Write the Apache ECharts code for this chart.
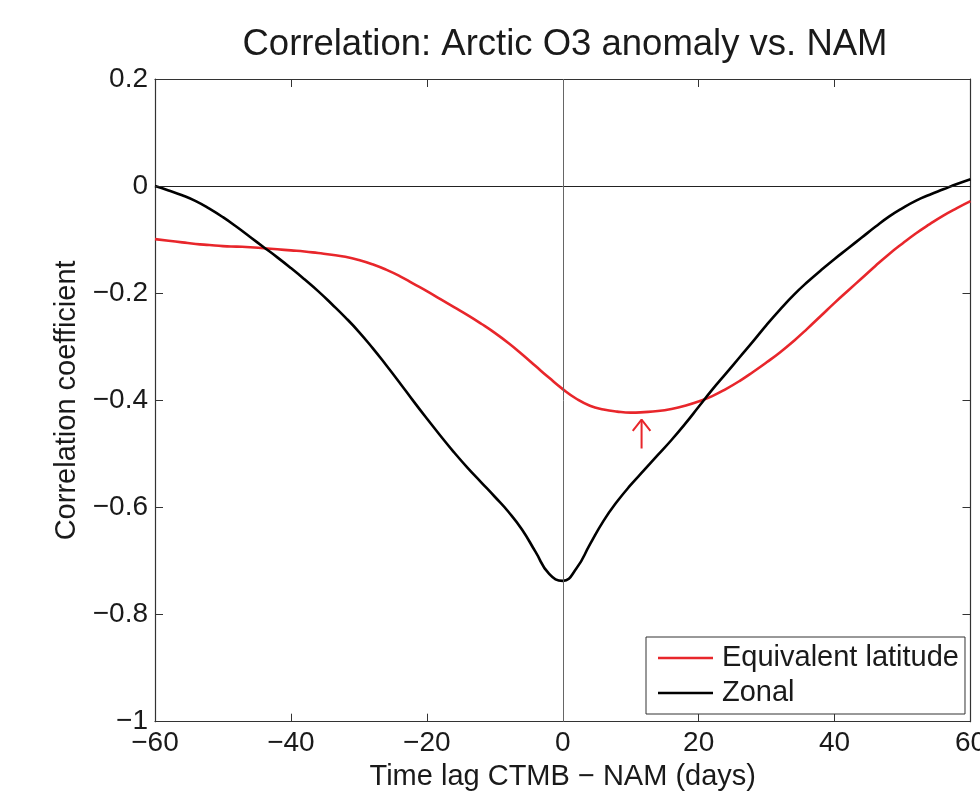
<!DOCTYPE html>
<html>
<head>
<meta charset="utf-8">
<script src="https://cdn.jsdelivr.net/npm/echarts@6/dist/echarts.min.js"></script>
<style>html,body{margin:0;padding:0;background:#fff;}#chart{width:980px;height:794px;}</style>
</head>
<body>
<div id="chart"></div>
<script>
const days = [-60,-58,-56,-54,-52,-50,-48,-46,-44,-42,-40,-38,-36,-34,-32,-30,-28,-26,-24,-22,-20,-18,-16,-14,-12,-10,-8,-6,-4,-2,0,2,4,6,8,10,12,14,16,18,20,22,24,26,28,30,32,34,36,38,40,42,44,46,48,50,52,54,56,58,60];
const equivalentLatitude = [-0.099,-0.102,-0.105,-0.108,-0.110,-0.112,-0.113,-0.114,-0.116,-0.118,-0.120,-0.122,-0.125,-0.128,-0.132,-0.138,-0.146,-0.156,-0.168,-0.182,-0.196,-0.211,-0.226,-0.241,-0.257,-0.274,-0.293,-0.314,-0.336,-0.358,-0.379,-0.397,-0.410,-0.417,-0.421,-0.423,-0.422,-0.420,-0.416,-0.410,-0.402,-0.392,-0.379,-0.364,-0.347,-0.329,-0.310,-0.289,-0.266,-0.242,-0.218,-0.195,-0.172,-0.149,-0.127,-0.107,-0.088,-0.071,-0.055,-0.041,-0.028];
const zonal = [0.000,-0.008,-0.017,-0.028,-0.042,-0.058,-0.076,-0.095,-0.114,-0.133,-0.153,-0.174,-0.196,-0.220,-0.245,-0.272,-0.302,-0.334,-0.367,-0.401,-0.434,-0.466,-0.497,-0.526,-0.553,-0.580,-0.608,-0.641,-0.683,-0.724,-0.737,-0.714,-0.669,-0.625,-0.589,-0.558,-0.530,-0.502,-0.474,-0.444,-0.412,-0.380,-0.350,-0.320,-0.290,-0.259,-0.230,-0.203,-0.179,-0.157,-0.136,-0.116,-0.096,-0.076,-0.057,-0.041,-0.027,-0.016,-0.006,0.004,0.013];
const seriesNames = ['Equivalent latitude', 'Zonal'];
const xTicks = [-60,-40,-20,0,20,40,60];
const yTicks = [-1,-0.8,-0.6,-0.4,-0.2,0,0.2];
// arrow marking the minimum of the equivalent-latitude curve
const arrowX = 11.6, arrowFrom = -0.49, arrowTo = -0.436, arrowHalfW = 1.3, arrowHeadH = 0.021;

const FONT = "'Liberation Sans', Arial, Helvetica, sans-serif";
const fmt = v => { const r = Math.round(v * 10) / 10; if (r === 0) return '0'; return (r < 0 ? '\u2212' : '') + String(Math.abs(r)); };

const chart = echarts.init(document.getElementById('chart'), null, {renderer: 'canvas'});
const baseX = {type: 'value', min: xTicks[0], max: xTicks[xTicks.length-1], interval: 20, splitLine: {show: false}};
const baseY = {type: 'value', min: yTicks[0], max: yTicks[yTicks.length-1], interval: 0.2, splitLine: {show: false}};
const tick = {show: true, inside: true, length: 8, lineStyle: {color: '#333', width: 1}};
const axLine = {show: true, onZero: false, lineStyle: {color: '#333', width: 1.2}};

chart.setOption({
  backgroundColor: '#fff',
  animation: false,
  title: {
    text: 'Correlation: Arctic O3 anomaly vs. NAM',
    left: 560, textAlign: 'center', top: 21,
    textStyle: {fontFamily: FONT, fontSize: 36.5, fontWeight: 'normal', color: '#1a1a1a'}
  },
  grid: {left: 155, right: 9.5, top: 79, bottom: 72.3, show: false, containLabel: false, outerBoundsMode: 'none'},
  legend: {
    orient: 'vertical', left: 646, top: 637, width: 317,
    padding: [6, 6, 6, 12], itemGap: 5, itemWidth: 55, itemHeight: 14,
    backgroundColor: '#fff', borderColor: '#333', borderWidth: 1,
    textStyle: {fontFamily: FONT, fontSize: 29, color: '#1a1a1a', lineHeight: 30, padding: [0,0,0,4]},
    data: seriesNames.map(n => ({name: n, icon: 'path://M0,0 L55,0 L55,2.6 L0,2.6 Z'}))
  },
  xAxis: [
    Object.assign({}, baseX, {
      position: 'bottom', axisLine: axLine, axisTick: tick,
      axisLabel: {formatter: fmt, fontFamily: FONT, fontSize: 28, color: '#1a1a1a', margin: 8},
      name: 'Time lag CTMB \u2212 NAM (days)', nameLocation: 'middle', nameGap: 36,
      nameTextStyle: {fontFamily: FONT, fontSize: 29, color: '#1a1a1a'}
    }),
    Object.assign({}, baseX, {position: 'top', axisLine: axLine, axisTick: tick, axisLabel: {show: false}})
  ],
  yAxis: [
    Object.assign({}, baseY, {
      position: 'left', axisLine: axLine, axisTick: tick,
      axisLabel: {formatter: fmt, fontFamily: FONT, fontSize: 28, color: '#1a1a1a', margin: 7},
      name: 'Correlation coefficient', nameLocation: 'middle', nameGap: 71,
      nameTextStyle: {fontFamily: FONT, fontSize: 29, color: '#1a1a1a'}
    }),
    Object.assign({}, baseY, {position: 'right', axisLine: axLine, axisTick: tick, axisLabel: {show: false}})
  ],
  series: [
    {
      name: seriesNames[0], type: 'line', smooth: 0.5, symbol: 'none', z: 3,
      lineStyle: {color: '#e8262b', width: 2.6}, itemStyle: {color: '#e8262b'},
      data: days.map((d, i) => [d, equivalentLatitude[i]])
    },
    {
      name: seriesNames[1], type: 'line', smooth: 0.5, symbol: 'none', z: 4,
      lineStyle: {color: '#000', width: 2.6}, itemStyle: {color: '#000'},
      data: days.map((d, i) => [d, zonal[i]]),
      markLine: {
        silent: true, symbol: 'none', label: {show: false}, animation: false,
        data: [
          {yAxis: 0, lineStyle: {color: '#222', width: 1, type: 'solid'}},
          {xAxis: 0, lineStyle: {color: '#666', width: 1, type: 'solid'}}
        ]
      }
    },
    {
      name: 'arrow-shaft', type: 'line', symbol: 'none', silent: true, z: 5,
      lineStyle: {color: '#e8262b', width: 2}, legendHoverLink: false,
      data: [[arrowX, arrowFrom], [arrowX, arrowTo]]
    },
    {
      name: 'arrow-head', type: 'line', symbol: 'none', silent: true, z: 5,
      lineStyle: {color: '#e8262b', width: 2}, legendHoverLink: false,
      data: [[arrowX - arrowHalfW, arrowTo - arrowHeadH], [arrowX, arrowTo], [arrowX + arrowHalfW, arrowTo - arrowHeadH]]
    }
  ]
});
</script>
</body>
</html>
